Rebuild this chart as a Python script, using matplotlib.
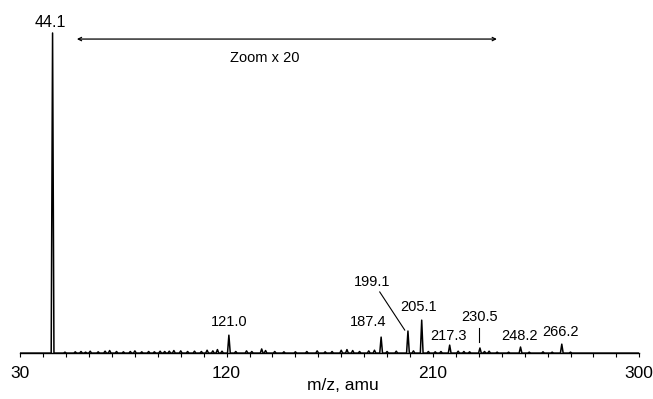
import matplotlib
matplotlib.use("Agg")
import matplotlib.pyplot as plt
import numpy as np

plt.rcParams['font.family'] = ['Liberation Sans', 'DejaVu Sans']

# Labelled peaks (m/z, relative intensity)
peak_mz = [44.1, 121.0, 187.4, 199.1, 205.1, 217.3, 230.5, 248.2, 266.2]
peak_int = [100.0, 5.6, 5.0, 6.9, 10.3, 2.5, 1.6, 1.9, 2.8]

# Small background peaks (m/z, relative intensity)
minor_mz = [49.5, 54.0, 56.5, 58.5, 60.5, 64.0, 67.0, 69.0, 72.0, 75.0, 78.0, 80.0,
            83.0, 86.0, 88.5, 91.0, 93.0, 95.0, 97.0, 100.0, 103.0, 106.0, 109.0,
            111.5, 114.0, 116.0, 118.0, 124.0, 128.7, 131.0, 135.3, 137.0, 141.0,
            145.0, 150.0, 155.0, 159.5, 163.0, 166.0, 170.0, 172.5, 175.0, 178.0,
            182.0, 184.5, 190.0, 194.0, 201.5, 208.0, 211.0, 213.5, 221.0, 223.5,
            226.0, 232.5, 234.5, 238.0, 243.0, 252.0, 258.0, 262.0, 270.0]
minor_int = [0.3, 0.4, 0.5, 0.3, 0.6, 0.4, 0.6, 0.8, 0.5, 0.4, 0.5, 0.7,
             0.4, 0.5, 0.4, 0.6, 0.5, 0.6, 0.8, 0.7, 0.5, 0.6, 0.5,
             0.9, 0.7, 1.1, 0.6, 0.5, 0.7, 0.5, 1.3, 0.8, 0.5,
             0.4, 0.4, 0.5, 0.7, 0.4, 0.5, 0.9, 1.1, 0.8, 0.5,
             0.7, 0.9, 0.5, 0.6, 0.7, 0.5, 0.4, 0.5, 0.6, 0.5,
             0.4, 0.5, 0.6, 0.3, 0.3, 0.3, 0.4, 0.3, 0.3]

label_text = ['44.1', '121.0', '187.4', '199.1', '205.1', '217.3', '230.5', '248.2', '266.2']
label_x = [43.3, 121.0, 181.6, 183.3, 203.8, 216.9, 230.4, 247.9, 265.8]
label_y = [103.4, 9.8, 9.6, 22.2, 14.4, 5.3, 11.25, 5.3, 6.6]

xticks = [30, 120, 210, 300]

# Build spectrum trace from the peak lists
all_mz = np.array(peak_mz + minor_mz)
all_int = np.array(peak_int + minor_int)
order = np.argsort(all_mz)
xs = [30.0]
ys = [0.0]
hw = 0.6
for m, h in zip(all_mz[order], all_int[order]):
    xs += [m - hw, m, m + hw]
    ys += [0.0, h, 0.0]
xs.append(300.0)
ys.append(0.0)

fig = plt.figure(figsize=(6.53, 3.99), dpi=100)
ax = fig.add_axes([0.031, 0.115, 0.948, 0.885])
ax.plot(xs, ys, color='black', lw=1.1)

ax.set_xlim(30, 300)
ax.set_ylim(0, 110.3)
for s in ['top', 'right', 'left']:
    ax.spines[s].set_visible(False)
ax.spines['bottom'].set_linewidth(1.0)
ax.set_yticks([])
ax.set_xticks(xticks)
ax.set_xticks(np.arange(30, 301, 10), minor=True)
ax.tick_params(axis='x', which='major', length=3, width=0.8, labelsize=12.5, pad=6)
ax.tick_params(axis='x', which='minor', length=3, width=0.8)
ax.set_xlabel('m/z, amu', fontsize=12.5, labelpad=2)
ax.xaxis.set_label_coords(0.521, -0.07)

for t, x, y in zip(label_text, label_x, label_y):
    fs = 11.5 if t == '44.1' else 10.5
    ax.text(x, y, t, ha='center', va='center', fontsize=fs)

# leader line for 199.1 and marker for 230.5
ax.plot([186.8, 197.7], [19.1, 7.2], color='black', lw=0.8)
ax.plot([229.9, 229.9], [7.8, 3.4], color='black', lw=0.8)

# Zoom arrow
ax.annotate('', xy=(54.7, 98.1), xytext=(237.9, 98.1),
            arrowprops=dict(arrowstyle='<->', color='black', lw=0.9,
                            mutation_scale=6, shrinkA=0, shrinkB=0))
ax.text(136.7, 92.2, 'Zoom x 20', ha='center', va='center', fontsize=10.5)

fig.savefig('out.png', dpi=100)
